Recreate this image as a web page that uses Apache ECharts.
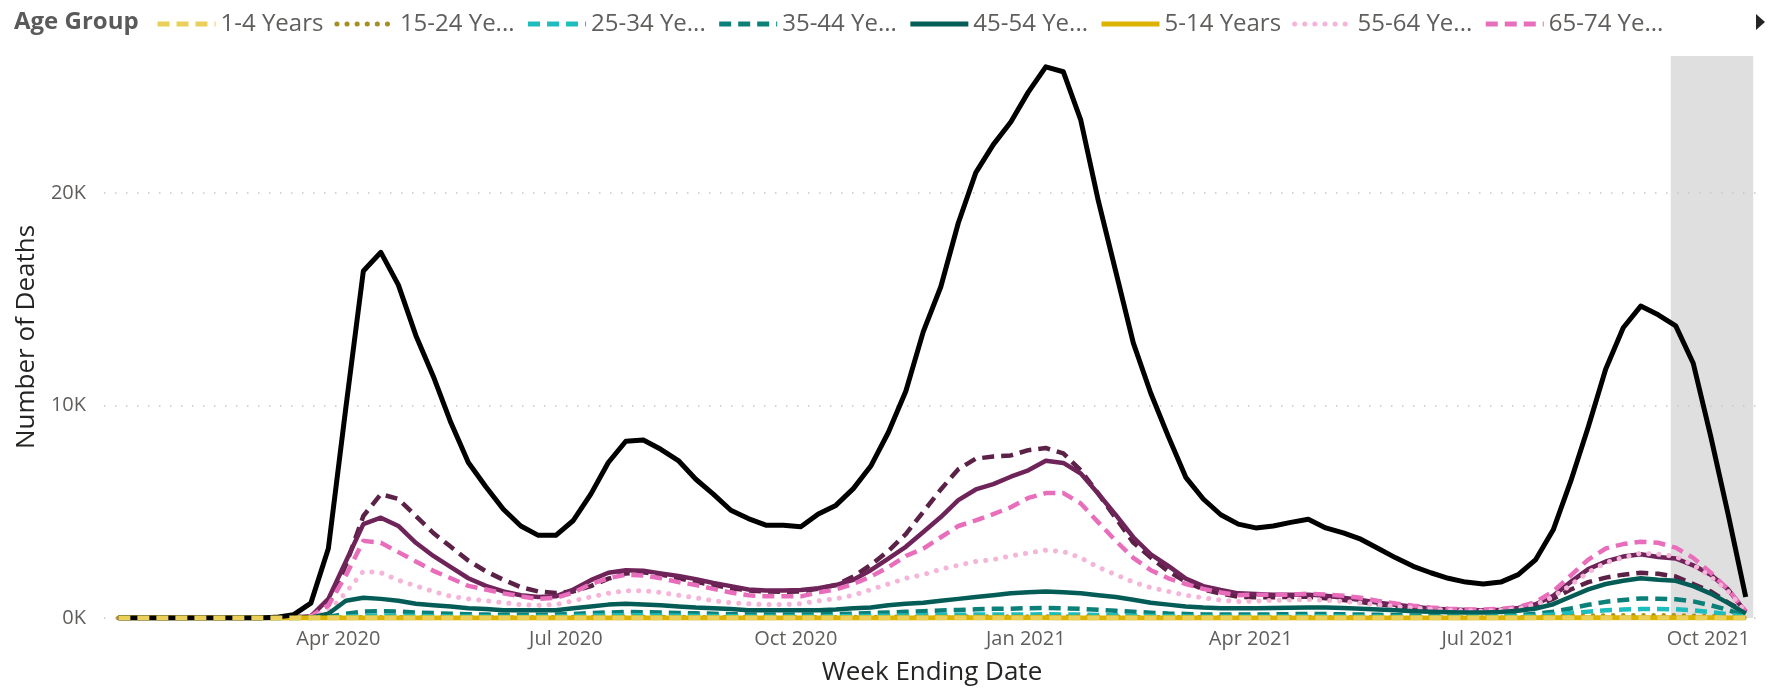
<!DOCTYPE html>
<html>
<head>
<meta charset="utf-8">
<script src="https://cdn.jsdelivr.net/npm/echarts@6/dist/echarts.min.js"></script>
<style>
html,body{margin:0;padding:0;background:#fff;}
#chart{width:1775px;height:691px;}
</style>
</head>
<body>
<div id="chart"></div>
<script>
// Weekly data, week ending dates starting 2020-01-04 (94 weeks)
const START = [2020, 0, 4];
const N_WEEKS = 94;
const SHADE = ['2021-09-16', '2021-10-19'];
const TICKS = ['2020-04-01','2020-07-01','2020-10-01','2021-01-01','2021-04-01','2021-07-01','2021-10-01'];
const TICK_LABELS = ['Apr 2020','Jul 2020','Oct 2020','Jan 2021','Apr 2021','Jul 2021','Oct 2021'];
const Y_TICKS = [0, 10000, 20000];

const ALL_AGES = [0,0,0,0,0,0,0,0,5,30,
 150,700,3270,9900,16330,17210,15680,13300,11370,9200,
 7320,6180,5120,4330,3890,3890,4590,5830,7320,8320,
 8380,7940,7410,6530,5830,5070,4680,4370,4370,4290,
 4890,5300,6090,7150,8730,10670,13480,15590,18590,20960,
 22280,23340,24750,25940,25710,23430,19640,16300,12950,10580,
 8550,6620,5600,4860,4420,4240,4330,4500,4650,4240,
 4010,3710,3270,2830,2430,2130,1870,1690,1600,1690,
 2040,2750,4150,6440,8990,11720,13660,14680,14270,13750,
 11990,8550,4860,990];
const AGE_85 = [0,0,0,0,0,0,0,0,1,5,
 20,100,600,2500,4800,5830,5600,4800,4000,3350,
 2700,2200,1800,1450,1250,1180,1250,1500,1850,2100,
 2150,2050,1870,1700,1550,1400,1300,1250,1230,1250,
 1380,1550,1950,2500,3150,3950,5000,6050,7000,7500,
 7600,7650,7900,8000,7750,6950,5850,4700,3550,2850,
 2200,1700,1350,1150,1000,980,980,990,1000,930,
 850,750,650,560,480,420,380,360,350,380,
 450,600,900,1340,1690,1900,2040,2130,2080,1950,
 1600,1250,720,260];
const AGE_75 = [0,0,0,0,0,0,0,0,1,5,
 20,80,900,2660,4420,4720,4330,3540,2920,2390,
 1870,1510,1250,1070,990,1020,1340,1780,2130,2250,
 2220,2100,1980,1830,1650,1500,1340,1300,1300,1320,
 1400,1550,1800,2250,2800,3350,4050,4750,5550,6050,
 6300,6650,6950,7400,7300,6800,5850,4850,3800,3000,
 2450,1850,1500,1320,1160,1130,1100,1100,1100,1050,
 950,850,720,620,530,450,400,380,370,390,
 470,650,1050,1700,2300,2660,2890,3000,2870,2800,
 2480,2040,1340,280];
const AGE_65 = [0,0,0,0,0,0,0,0,1,4,
 15,80,600,2000,3630,3540,3100,2660,2220,1870,
 1510,1340,1160,1020,900,950,1200,1600,1870,2040,
 2000,1870,1690,1550,1370,1200,1070,1020,1020,1020,
 1200,1340,1600,1950,2390,2920,3270,3800,4330,4590,
 4890,5210,5650,5880,5880,5390,4500,3630,2830,2250,
 1870,1600,1370,1200,1070,1100,1100,1100,1150,1100,
 1050,950,800,680,580,500,440,410,400,430,
 520,750,1250,2000,2750,3270,3480,3590,3540,3310,
 2830,2130,1340,320];
const AGE_55 = [0,0,0,0,0,0,0,0,0,3,
 10,50,300,1200,2200,2130,1780,1510,1250,1020,
 900,810,720,630,600,630,810,990,1160,1285,
 1285,1200,1070,950,810,720,670,630,630,670,
 810,900,1070,1340,1600,1870,2040,2300,2480,2660,
 2750,2920,3060,3190,3130,2830,2390,2040,1690,1430,
 1250,1070,950,840,770,800,830,850,870,830,
 780,700,620,540,470,410,370,340,330,360,
 440,620,1000,1550,2150,2600,2850,3050,3000,2900,
 2500,1950,1250,280];
const AGE_45 = [0,0,0,0,0,0,0,0,0,2,
 5,20,200,810,950,900,810,670,600,545,
 460,420,370,370,370,370,460,545,630,670,
 630,600,545,490,460,420,370,370,370,370,
 370,400,460,490,600,670,720,810,900,990,
 1070,1160,1210,1250,1210,1160,1070,990,860,720,
 630,545,490,460,460,460,470,480,500,490,
 470,440,400,360,320,290,270,260,260,280,
 340,450,650,1000,1350,1600,1750,1870,1800,1750,
 1500,1150,700,200];
const AGE_35 = [0,0,0,0,0,0,0,0,0,0,
 2,8,50,200,310,320,300,260,230,200,
 180,160,150,150,150,160,190,230,260,280,
 270,260,240,220,200,180,170,160,160,160,
 170,180,200,230,260,290,320,350,380,410,
 430,440,460,470,460,430,390,340,290,250,
 210,190,170,160,160,160,170,180,190,185,
 175,165,150,130,115,100,95,90,95,110,
 140,200,300,450,620,760,850,920,910,880,
 780,600,380,90];
const AGE_25 = [0,0,0,0,0,0,0,0,0,0,
 1,3,15,60,100,110,105,95,85,75,
 70,65,60,60,65,75,90,110,125,130,
 125,120,110,100,90,80,75,70,70,70,
 75,80,90,100,110,120,135,145,155,160,
 165,165,170,175,170,160,145,130,110,95,
 85,75,70,65,65,65,70,75,80,80,
 75,70,65,60,55,50,48,48,50,60,
 80,110,160,230,300,360,400,420,420,410,
 360,280,180,40];
const AGE_15 = [0,0,0,0,0,0,0,0,0,0,
 0,2,10,25,35,35,33,30,27,25,
 25,25,25,28,32,38,45,50,55,55,
 52,48,45,40,37,35,33,32,32,32,
 35,38,42,47,52,57,60,63,65,68,
 70,72,73,75,72,68,62,55,48,42,
 38,35,33,32,32,33,35,37,38,37,
 35,32,30,27,25,23,22,22,24,28,
 36,50,70,90,110,125,130,135,130,125,
 110,85,55,12];
const AGE_5 = [0,0,0,0,0,0,0,0,0,0,0,0,
 1,2,3,3,2,2,2,1,1,1,1,2,2,3,4,4,4,3,3,3,
 3,2,2,2,2,2,2,2,3,3,3,4,4,5,5,6,6,6,6,7,6,6,5,5,4,3,3,2,2,2,2,2,2,
 2,2,3,3,3,3,2,2,2,2,2,2,2,3,3,4,6,8,10,12,13,14,14,13,12,10,7,4,1];
const AGE_1 = [0,0,0,0,0,0,0,0,0,0,0,0,
 0,1,1,1,1,1,1,1,0,1,1,1,1,1,1,2,2,1,1,1,
 1,1,1,1,1,1,1,1,1,1,1,2,2,2,2,2,3,3,3,3,2,2,2,2,1,1,1,1,1,1,1,1,1,
 1,1,1,1,1,1,1,1,1,1,1,1,1,1,1,2,2,3,4,5,5,6,6,5,5,4,3,2,0];
const UNDER_1 = [0,0,0,0,0,0,0,0,0,0,0,0,
 0,1,1,1,1,1,1,1,1,1,1,1,1,1,2,2,2,2,1,1,
 1,1,1,1,1,1,1,1,1,1,2,2,2,2,2,3,3,3,3,3,3,2,2,2,2,1,1,1,1,1,1,1,1,
 1,1,1,1,1,1,1,1,1,1,1,1,1,1,1,1,2,2,3,3,4,4,4,4,3,3,2,1,0];

const LEGEND_NAMES = ['1-4 Years','15-24 Years','25-34 Years','35-44 Years','45-54 Years','5-14 Years','55-64 Years','65-74 Years'];

const FONT = 'Open Sans';
const dates = [];
for (let i = 0; i < N_WEEKS; i++) dates.push(new Date(START[0], START[1], START[2] + 7 * i).getTime());
function ts(s){ const p = s.split('-').map(Number); return new Date(p[0], p[1]-1, p[2]).getTime(); }
const TICK_TS = TICKS.map(ts);

const DASH = [12, 7];
const DOT = [0.1, 10];
function line(name, values, color, style, width, z, extra) {
  const isDot = style === 'dot';
  const s = {
    name, type: 'line', z, symbol: 'none', showSymbol: false, smooth: false,
    data: values.map((v, i) => [dates[i], v]),
    lineStyle: {
      color, width,
      type: style === 'solid' ? 'solid' : (isDot ? DOT : DASH),
      cap: isDot ? 'round' : 'butt', join: 'round'
    },
    itemStyle: { color },
    emphasis: { disabled: true },
    animation: false
  };
  return Object.assign(s, extra || {});
}

const series = [
  line('Under 1 Year', UNDER_1, '#8C7B2E', 'solid', 4, 3, {
    markArea: { silent: true, itemStyle: { color: '#DFDFDF' },
      data: [[{ xAxis: ts(SHADE[0]) }, { xAxis: ts(SHADE[1]) }]] }
  }),
  line('85 Years and Over', AGE_85, '#5C2147', 'dash', 4.5, 4),
  line('75-84 Years', AGE_75, '#6E2459', 'solid', 4.5, 5),
  line('65-74 Years', AGE_65, '#E86EBC', 'dash', 4.5, 6),
  line('55-64 Years', AGE_55, '#F4B5D9', 'dot', 5, 7),
  line('45-54 Years', AGE_45, '#035C55', 'solid', 4.5, 8),
  line('35-44 Years', AGE_35, '#0B8079', 'dash', 4.5, 9),
  line('25-34 Years', AGE_25, '#1DBDBD', 'dash', 4.5, 10),
  line('15-24 Years', AGE_15, '#A68F22', 'dot', 4.5, 11),
  line('5-14 Years', AGE_5, '#DBB300', 'solid', 5, 12),
  line('All Ages', ALL_AGES, '#000000', 'solid', 5, 13),
  line('1-4 Years', AGE_1, '#EACF58', 'dash', 5, 14)
];

const chart = echarts.init(document.getElementById('chart'), null, { renderer: 'canvas' });
chart.setOption({
  animation: false,
  backgroundColor: '#ffffff',
  textStyle: { fontFamily: FONT },
  grid: { left: 104, right: 15, top: 56, bottom: 62, containLabel: false },
  legend: {
    data: LEGEND_NAMES,
    left: 155, top: 12, padding: 0,
    itemWidth: 58, itemHeight: 14, itemGap: 11,
    selectedMode: false,
    itemStyle: { opacity: 0 },
    lineStyle: { width: 5, opacity: 1 },
    formatter: n => n.length > 10 ? n.slice(0, 8) + '...' : n,
    textStyle: { fontFamily: FONT, fontSize: 24, color: '#605E5C' }
  },
  graphic: [
    { type: 'text', left: 14, top: 10, style: { text: 'Age Group', font: 'bold 24px "Open Sans"', fill: '#5A5A5A' } },
    { type: 'polygon', shape: { points: [[1756, 14], [1765, 22], [1756, 30]] }, style: { fill: '#252423' } }
  ],
  xAxis: {
    type: 'value',
    min: new Date(2019, 11, 29, 6).getTime(),
    max: new Date(2021, 9, 21, 17).getTime(),
    name: 'Week Ending Date', nameLocation: 'middle', nameGap: 42,
    nameTextStyle: { fontFamily: FONT, fontSize: 26, color: '#252423' },
    axisLine: { show: false }, axisTick: { show: false }, splitLine: { show: false },
    axisLabel: {
      customValues: TICK_TS,
      formatter: (v) => { const i = TICK_TS.indexOf(v); return i >= 0 ? TICK_LABELS[i] : ''; },
      fontFamily: FONT, fontSize: 20, color: '#605E5C', margin: 11
    }
  },
  yAxis: {
    type: 'value', min: 0, max: 26450, interval: 10000, z: 2,
    name: 'Number of Deaths', nameLocation: 'middle', nameGap: 64,
    nameTextStyle: { fontFamily: FONT, fontSize: 26, color: '#252423' },
    axisLine: { show: false }, axisTick: { show: false },
    axisLabel: {
      formatter: v => Y_TICKS.indexOf(v) >= 0 ? (v / 1000) + 'K' : '',
      showMaxLabel: false,
      fontFamily: FONT, fontSize: 20, color: '#605E5C', margin: 18
    },
    splitLine: { show: true, showMaxLine: false, lineStyle: { color: '#C6C6C6', width: 1.5, type: [1.5, 9.5] } }
  },
  series
});
</script>
</body>
</html>
